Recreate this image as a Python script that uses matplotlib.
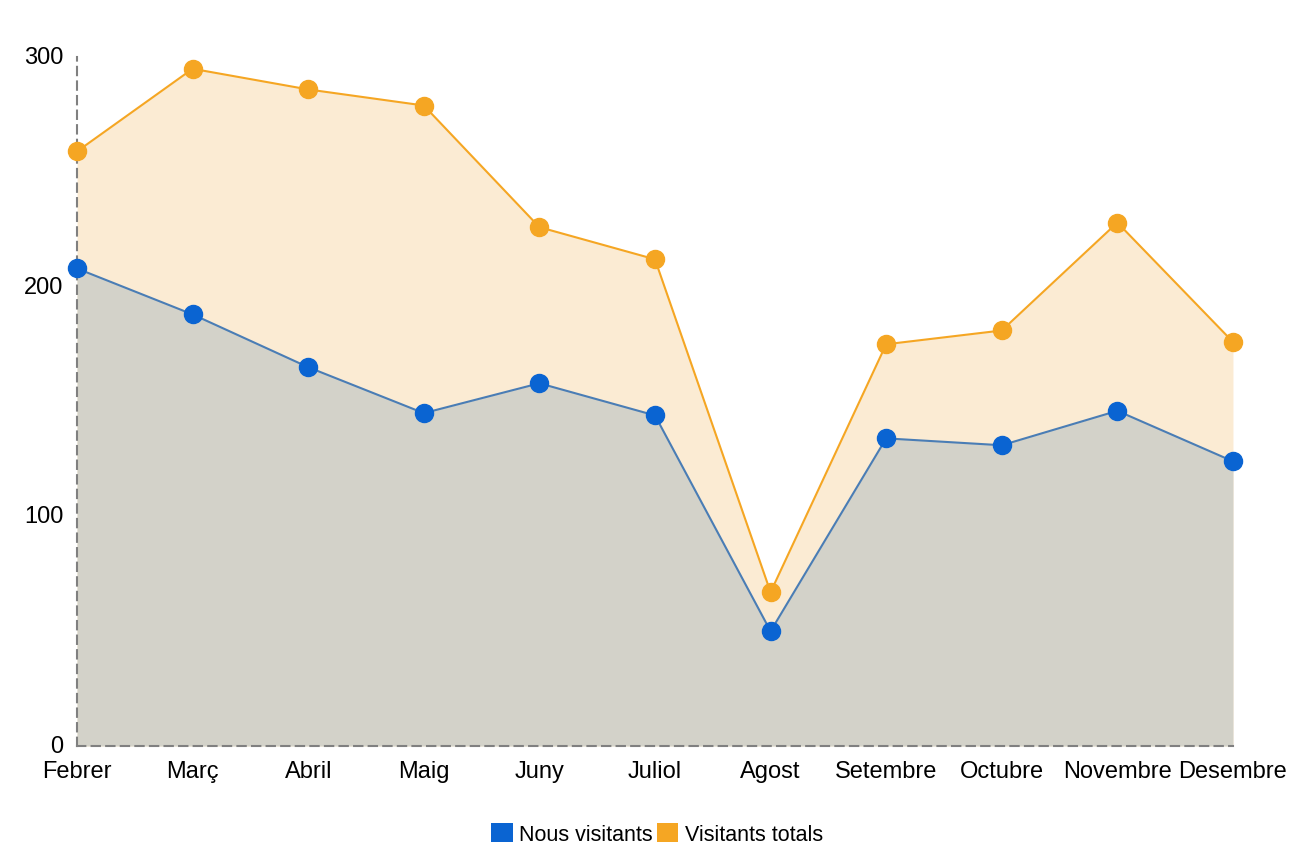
import matplotlib
matplotlib.use("Agg")
import matplotlib.pyplot as plt
from matplotlib.patches import Patch

months = ["Febrer", "Març", "Abril", "Maig", "Juny", "Juliol", "Agost",
          "Setembre", "Octubre", "Novembre", "Desembre"]
nous_visitants = [208, 188, 165, 145, 158, 144, 50, 134, 131, 146, 124]
visitants_totals = [259, 295, 286, 279, 226, 212, 67, 175, 181, 228, 176]
y_ticks = [0, 100, 200, 300]

plt.rcParams['font.family'] = ['Liberation Sans', 'DejaVu Sans']

fig = plt.figure(figsize=(13.01, 8.45), dpi=100)
ax = fig.add_axes([0.0592, 0.116, 0.8885, 0.815])

x = list(range(len(months)))

ax.fill_between(x, 0, visitants_totals, color="#fbebd3", linewidth=0, zorder=1)
ax.fill_between(x, 0, nous_visitants, color="#d3d2c9", linewidth=0, zorder=2)

ax.plot(x, visitants_totals, color="#f5a623", linewidth=1.5, zorder=3)
ax.plot(x, nous_visitants, color="#4a7db5", linewidth=1.5, zorder=3)
ax.plot(x, visitants_totals, linestyle="none", marker="o", markersize=13,
        color="#f5a623", zorder=6, clip_on=False)
ax.plot(x, nous_visitants, linestyle="none", marker="o", markersize=13,
        color="#0a64d2", zorder=6, clip_on=False)

ax.set_xlim(0, len(months) - 1)
ax.set_ylim(0, 300)
ax.set_xticks(x)
ax.set_xticklabels(months, fontsize=17)
ax.set_yticks(y_ticks)
ax.set_yticklabels([str(v) for v in y_ticks], fontsize=17)
ax.tick_params(axis='both', length=0)
ax.tick_params(axis='x', pad=10)
ax.tick_params(axis='y', pad=10)
for lab in ax.get_yticklabels():
    lab.set_verticalalignment('center')

for s in ["top", "right"]:
    ax.spines[s].set_visible(False)
for s in ["left", "bottom"]:
    ax.spines[s].set_linestyle((0, (4, 3)))
    ax.spines[s].set_color("#808080")
    ax.spines[s].set_linewidth(1.5)
    ax.spines[s].set_zorder(5)

handles = [Patch(facecolor="#0a64d2", edgecolor="none", label="Nous visitants"),
           Patch(facecolor="#f5a623", edgecolor="none", label="Visitants totals")]
fig.legend(handles=handles, loc="center", bbox_to_anchor=(0.505, 0.012),
           ncol=2, frameon=False, fontsize=15.5, handlelength=1.0, handleheight=1.0,
           handletextpad=0.3, columnspacing=0.2)

fig.savefig("out.png", dpi=100)
